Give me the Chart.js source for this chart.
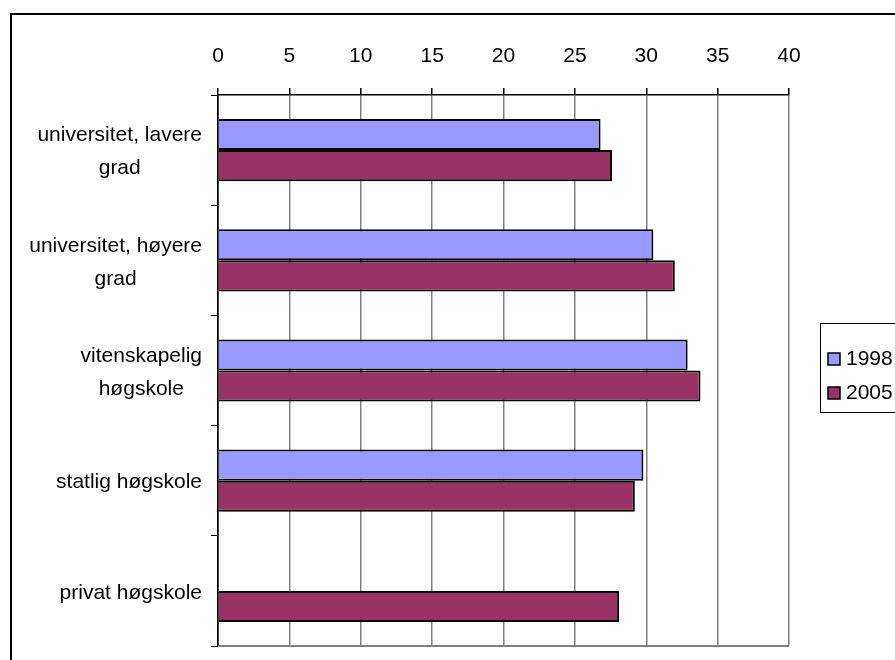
<!DOCTYPE html>
<html>
<head>
<meta charset="utf-8">
<script src="https://cdn.jsdelivr.net/npm/chart.js@4/dist/chart.umd.min.js"></script>
<style>
  html, body { margin: 0; padding: 0; background: #fff; }
  canvas { display: block; }
</style>
</head>
<body>
<canvas id="c" width="895" height="660"></canvas>
<script>
const categories = [
  ["universitet, lavere", "grad"],
  ["universitet, høyere", "grad"],
  ["vitenskapelig", "høgskole"],
  ["statlig høgskole"],
  ["privat høgskole"]
];
const seriesNames = ["1998", "2005"];
const values1998 = [26.8, 30.5, 32.9, 29.8, null];
const values2005 = [27.6, 32.0, 33.8, 29.2, 28.1];
const xTicks = [0, 5, 10, 15, 20, 25, 30, 35, 40];

const FONT = "Liberation Sans, Arial, sans-serif";

const customPlugin = {
  id: 'custom',
  beforeDraw(chart) {
    const ctx = chart.ctx;
    ctx.save();
    ctx.fillStyle = '#fff';
    ctx.fillRect(0, 0, chart.width, chart.height);
    ctx.strokeStyle = '#000';
    ctx.lineWidth = 2;
    ctx.strokeRect(11, 14, chart.width + 20, chart.height + 20);
    ctx.restore();
  },
  afterDraw(chart) {
    const ctx = chart.ctx;
    const area = chart.chartArea;
    const yScale = chart.scales.y;
    ctx.save();
    // bottom plot-area line
    ctx.strokeStyle = '#808080';
    ctx.lineWidth = 2;
    ctx.beginPath();
    ctx.moveTo(area.left, area.bottom);
    ctx.lineTo(area.right, area.bottom);
    ctx.stroke();
    // category labels: block right-aligned, lines centred
    ctx.font = "21px " + FONT;
    ctx.fillStyle = '#000';
    ctx.textAlign = 'center';
    ctx.textBaseline = 'middle';
    const lineH = 33;
    const rightEdge = area.left - 16;
    categories.forEach((lines, i) => {
      const yc = yScale.getPixelForValue(i) + 2;
      const maxW = Math.max(...lines.map(l => ctx.measureText(l).width));
      const cx = rightEdge - maxW / 2;
      const y0 = yc - (lines.length - 1) * lineH / 2;
      lines.forEach((l, k) => ctx.fillText(l, cx, y0 + k * lineH));
    });
    // legend
    const lx = 820, ly = 323;
    ctx.strokeStyle = '#000';
    ctx.lineWidth = 1;
    ctx.strokeRect(lx + 0.5, ly + 0.5, 100, 89);
    ctx.textAlign = 'left';
    chart.data.datasets.forEach((ds, k) => {
      const cy = 359 + k * 34;
      ctx.fillStyle = ds.backgroundColor;
      ctx.fillRect(828, cy - 6, 12, 12);
      ctx.strokeStyle = '#000';
      ctx.lineWidth = 1.5;
      ctx.strokeRect(828, cy - 6, 12, 12);
      ctx.fillStyle = '#000';
      ctx.fillText(ds.label, 846, cy);
    });
    ctx.restore();
  }
};

new Chart(document.getElementById('c'), {
  type: 'bar',
  data: {
    labels: categories.map(l => l.join(' ')),
    datasets: [
      { label: seriesNames[0], data: values1998, backgroundColor: '#9999FF', borderColor: '#000', borderWidth: 2 },
      { label: seriesNames[1], data: values2005, backgroundColor: '#993366', borderColor: '#000', borderWidth: 2 }
    ]
  },
  options: {
    indexAxis: 'y',
    responsive: false,
    animation: false,
    devicePixelRatio: 1,
    categoryPercentage: 0.564,
    barPercentage: 1.0,
    layout: { padding: { left: 0, right: 106, top: 0, bottom: 14 } },
    plugins: { legend: { display: false }, tooltip: { enabled: false } },
    scales: {
      x: {
        position: 'top',
        min: 0, max: 40,
        afterBuildTicks(scale) { scale.ticks = xTicks.map(v => ({ value: v })); },
        afterFit(scale) { scale.height = 95; },
        ticks: { color: '#000', font: { family: FONT, size: 21 }, padding: 19 },
        grid: {
          color: c => (c.tick && c.tick.value === 0) ? '#000' : '#808080',
          lineWidth: 1.5,
          tickColor: '#000',
          tickLength: 7,
          drawTicks: true
        },
        border: { color: '#000', width: 1.5 }
      },
      y: {
        afterFit(scale) { scale.width = 218; },
        ticks: { display: false },
        grid: { drawOnChartArea: false, drawTicks: true, tickLength: 7, tickColor: '#000', offset: true },
        border: { color: '#000', width: 1.5 }
      }
    }
  },
  plugins: [customPlugin]
});
</script>
</body>
</html>
